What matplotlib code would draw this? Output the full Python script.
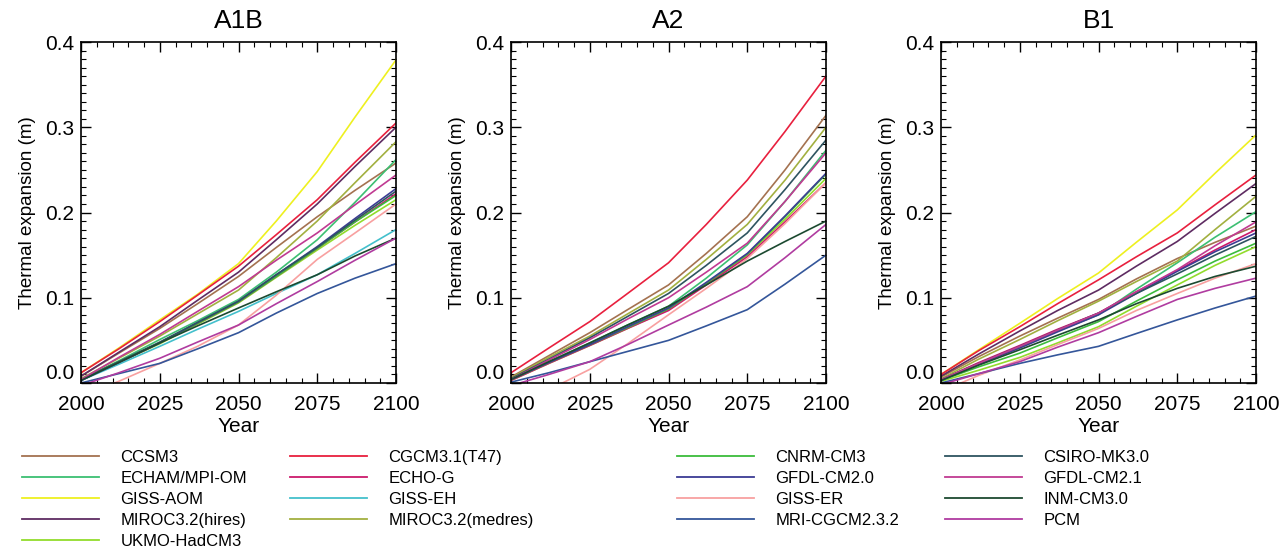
import numpy as np
import matplotlib
matplotlib.use('Agg')
import matplotlib.pyplot as plt
from matplotlib.lines import Line2D
from matplotlib.ticker import MultipleLocator

plt.rcParams['font.family'] = ['Liberation Sans', 'DejaVu Sans']

years = [2000, 2012, 2025, 2037, 2050, 2062, 2075, 2087, 2100]
scenarios = ['A1B', 'A2', 'B1']

models = ['CCSM3', 'ECHAM/MPI-OM', 'GISS-AOM', 'MIROC3.2(hires)', 'UKMO-HadCM3',
          'CGCM3.1(T47)', 'ECHO-G', 'GISS-EH', 'MIROC3.2(medres)',
          'CNRM-CM3', 'GFDL-CM2.0', 'GISS-ER', 'MRI-CGCM2.3.2',
          'CSIRO-MK3.0', 'GFDL-CM2.1', 'INM-CM3.0', 'PCM']
colors = ['#a47250', '#3cbf72', '#eef020', '#5e2c62', '#92dc2c',
          '#e8203e', '#cc1a6c', '#44c0cc', '#a2b040',
          '#3cbc3c', '#3c3c94', '#f8a0a0', '#34569a',
          '#2e5460', '#c03a92', '#1c4a30', '#b03ca0']

nan = np.nan
none = [nan] * 9
# thermal expansion (m)
A1B = {
    'CCSM3':            [0.008, 0.035, 0.064, 0.093, 0.125, 0.159, 0.195, 0.226, 0.258],
    'ECHAM/MPI-OM':     [0.004, 0.026, 0.051, 0.073, 0.098, 0.130, 0.168, 0.212, 0.262],
    'GISS-AOM':         [0.012, 0.041, 0.074, 0.104, 0.140, 0.190, 0.248, 0.312, 0.379],
    'MIROC3.2(hires)':  [0.008, 0.036, 0.066, 0.097, 0.130, 0.168, 0.210, 0.254, 0.300],
    'UKMO-HadCM3':      [0.003, 0.024, 0.046, 0.069, 0.094, 0.124, 0.156, 0.185, 0.215],
    'CGCM3.1(T47)':     [0.012, 0.040, 0.072, 0.103, 0.137, 0.174, 0.215, 0.259, 0.305],
    'ECHO-G':           [0.003, 0.024, 0.047, 0.070, 0.095, 0.125, 0.158, 0.189, 0.222],
    'GISS-EH':          [0.003, 0.022, 0.043, 0.063, 0.084, 0.105, 0.127, 0.152, 0.180],
    'MIROC3.2(medres)': [0.005, 0.029, 0.055, 0.081, 0.109, 0.147, 0.190, 0.235, 0.283],
    'CNRM-CM3':         [0.004, 0.025, 0.047, 0.070, 0.095, 0.125, 0.158, 0.189, 0.220],
    'GFDL-CM2.0':       [0.003, 0.024, 0.047, 0.071, 0.096, 0.127, 0.160, 0.193, 0.228],
    'GISS-ER':          [-0.015, 0.002, 0.023, 0.043, 0.068, 0.103, 0.145, 0.176, 0.210],
    'MRI-CGCM2.3.2':    [0.000, 0.011, 0.023, 0.040, 0.059, 0.082, 0.105, 0.123, 0.140],
    'CSIRO-MK3.0':      [0.004, 0.025, 0.048, 0.071, 0.096, 0.127, 0.159, 0.191, 0.225],
    'GFDL-CM2.1':       [0.004, 0.030, 0.057, 0.084, 0.113, 0.144, 0.176, 0.209, 0.244],
    'INM-CM3.0':        [0.003, 0.024, 0.047, 0.067, 0.088, 0.107, 0.127, 0.149, 0.170],
    'PCM':              [-0.003, 0.012, 0.029, 0.048, 0.068, 0.093, 0.119, 0.144, 0.170],
}
A2 = {
    'CCSM3':            [0.007, 0.032, 0.059, 0.086, 0.115, 0.152, 0.195, 0.250, 0.314],
    'ECHAM/MPI-OM':     [0.004, 0.025, 0.047, 0.068, 0.090, 0.123, 0.162, 0.213, 0.273],
    'GISS-AOM':         none,
    'MIROC3.2(hires)':  none,
    'UKMO-HadCM3':      [0.003, 0.023, 0.044, 0.064, 0.086, 0.116, 0.150, 0.192, 0.240],
    'CGCM3.1(T47)':     [0.012, 0.041, 0.072, 0.105, 0.141, 0.186, 0.238, 0.295, 0.360],
    'ECHO-G':           [0.003, 0.023, 0.044, 0.064, 0.085, 0.115, 0.148, 0.189, 0.235],
    'GISS-EH':          none,
    'MIROC3.2(medres)': [0.006, 0.030, 0.055, 0.081, 0.109, 0.145, 0.186, 0.238, 0.300],
    'CNRM-CM3':         [0.004, 0.024, 0.045, 0.065, 0.087, 0.117, 0.151, 0.195, 0.245],
    'GFDL-CM2.0':       [0.004, 0.024, 0.045, 0.066, 0.088, 0.118, 0.152, 0.196, 0.246],
    'GISS-ER':          [-0.030, -0.008, 0.016, 0.046, 0.080, 0.111, 0.146, 0.187, 0.235],
    'MRI-CGCM2.3.2':    [0.001, 0.012, 0.025, 0.037, 0.050, 0.067, 0.086, 0.116, 0.150],
    'CSIRO-MK3.0':      [0.005, 0.028, 0.053, 0.078, 0.105, 0.138, 0.176, 0.227, 0.285],
    'GFDL-CM2.1':       [0.004, 0.027, 0.051, 0.075, 0.100, 0.130, 0.164, 0.213, 0.270],
    'INM-CM3.0':        [0.004, 0.025, 0.047, 0.068, 0.090, 0.115, 0.143, 0.166, 0.190],
    'PCM':              [-0.003, 0.010, 0.025, 0.045, 0.068, 0.089, 0.113, 0.147, 0.186],
}
B1 = {
    'CCSM3':            [0.007, 0.031, 0.055, 0.076, 0.098, 0.122, 0.146, 0.165, 0.184],
    'ECHAM/MPI-OM':     [0.004, 0.023, 0.043, 0.061, 0.080, 0.110, 0.141, 0.171, 0.201],
    'GISS-AOM':         [0.010, 0.039, 0.070, 0.099, 0.129, 0.165, 0.203, 0.246, 0.291],
    'MIROC3.2(hires)':  [0.008, 0.034, 0.061, 0.085, 0.109, 0.137, 0.166, 0.199, 0.234],
    'UKMO-HadCM3':      [0.002, 0.015, 0.030, 0.047, 0.066, 0.090, 0.115, 0.138, 0.160],
    'CGCM3.1(T47)':     [0.010, 0.038, 0.066, 0.093, 0.121, 0.148, 0.176, 0.209, 0.244],
    'ECHO-G':           [0.004, 0.024, 0.044, 0.063, 0.082, 0.107, 0.132, 0.156, 0.180],
    'GISS-EH':          none,
    'MIROC3.2(medres)': [0.005, 0.028, 0.051, 0.073, 0.096, 0.119, 0.143, 0.180, 0.219],
    'CNRM-CM3':         [0.003, 0.019, 0.035, 0.053, 0.072, 0.096, 0.121, 0.143, 0.164],
    'GFDL-CM2.0':       [0.003, 0.022, 0.041, 0.060, 0.080, 0.105, 0.131, 0.154, 0.176],
    'GISS-ER':          [-0.010, 0.009, 0.027, 0.045, 0.064, 0.085, 0.105, 0.123, 0.140],
    'MRI-CGCM2.3.2':    [0.000, 0.011, 0.023, 0.033, 0.043, 0.058, 0.074, 0.088, 0.102],
    'CSIRO-MK3.0':      [0.004, 0.023, 0.043, 0.062, 0.082, 0.105, 0.128, 0.150, 0.172],
    'GFDL-CM2.1':       [0.004, 0.023, 0.043, 0.062, 0.082, 0.107, 0.133, 0.161, 0.189],
    'INM-CM3.0':        [0.003, 0.021, 0.039, 0.056, 0.074, 0.093, 0.111, 0.125, 0.137],
    'PCM':              [-0.002, 0.011, 0.025, 0.042, 0.059, 0.078, 0.098, 0.111, 0.123],
}
data = [A1B, A2, B1]

fig = plt.figure(figsize=(12.79, 5.53), dpi=100)
lefts = [81, 511, 941]
for i, sc in enumerate(scenarios):
    ax = fig.add_axes([lefts[i] / 1279, 1 - 383 / 553, 315 / 1279, 341 / 553])
    for m, c in zip(models, colors):
        ax.plot(years, data[i][m], color=c, lw=1.2)
    ax.set_xlim(2000, 2100)
    ax.set_ylim(0, 0.4)
    ax.set_xticks([2000, 2025, 2050, 2075, 2100])
    ax.set_yticks([0.0, 0.1, 0.2, 0.3, 0.4])
    ax.set_yticklabels(['0.0', '0.1', '0.2', '0.3', '0.4'])
    ax.get_yticklabels()[0].set_va('bottom')
    ax.xaxis.set_minor_locator(MultipleLocator(5))
    ax.yaxis.set_minor_locator(MultipleLocator(0.01))
    ax.tick_params(which='both', direction='in', top=True, right=True, labelsize=15)
    ax.tick_params(axis='x', pad=9)
    ax.tick_params(axis='y', pad=5)
    ax.tick_params(which='major', length=7, width=1)
    ax.tick_params(which='minor', length=3.5, width=0.8)
    ax.set_title(sc, fontsize=19, pad=10)
    ax.set_xlabel('Year', fontsize=15, labelpad=2)
    ax.set_ylabel('Thermal expansion (m)', fontsize=13.5, labelpad=6)
    for s in ax.spines.values():
        s.set_linewidth(1.2)

# legend, four columns
handles = [Line2D([], [], color=c, lw=1.3) for c in colors]
cols = [(0, 5), (5, 9), (9, 13), (13, 17)]
xs = [22, 290, 677, 945]
for (a, b), x in zip(cols, xs):
    fig.legend(handles[a:b], models[a:b], loc='upper left',
               bbox_to_anchor=(x / 1279, 1 - 450 / 553), frameon=False,
               fontsize=12, handlelength=4.6, handletextpad=1.3,
               labelspacing=0.36, borderpad=0, borderaxespad=0)

fig.savefig('out.png', dpi=100)
